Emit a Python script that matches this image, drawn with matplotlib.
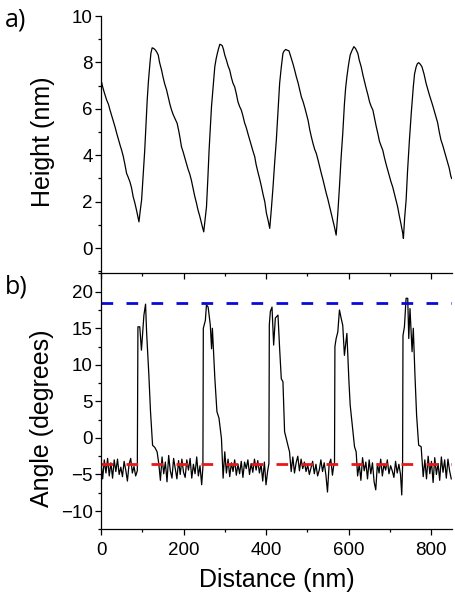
import matplotlib
matplotlib.use("Agg")
import matplotlib.pyplot as plt
from matplotlib.ticker import MultipleLocator

# ---------------- data ----------------
# a) height profile (distance in nm, height in nm)
height_x = [0, 4, 8, 13.7, 18, 21.8, 26, 30, 33.9, 38, 42, 46, 50, 54, 58, 62, 66, 70, 74, 78, 82, 86, 92,
            95, 98.4, 102, 106, 109, 112, 115, 118.6, 121, 124, 128, 132, 135, 138.7, 142, 146.8, 150, 154,
            159, 163, 167, 171, 175, 180, 184.7, 189, 192, 195, 199, 203, 207, 211, 215, 219, 223, 227,
            231.5, 235, 239, 243.6, 246, 249,
            252, 255.7, 259, 262, 265, 267.8, 272, 275.8, 279, 282, 285, 288, 291, 294, 297, 300, 304,
            308, 312, 316, 320, 324, 328, 332, 336, 340, 344, 348, 352, 356, 360, 364, 368, 372.6, 376,
            380, 385, 389, 393, 397, 401, 405, 409,
            413, 417, 421, 425, 429, 433, 437, 441, 444, 448, 452, 455.6, 460, 465, 469, 473.5, 478, 482,
            485.6, 490, 494, 497.7, 502, 506, 509.8, 514, 518, 521.9, 526, 530, 534, 538, 542, 546, 550,
            554, 558, 562, 566, 570,
            574, 578, 582, 586, 590, 593, 596, 600, 604, 608, 613, 617, 622.6, 626, 630.7, 635, 639,
            642.8, 647, 651, 655, 659, 663, 667, 671, 675, 679, 683, 687, 691, 695, 699, 703, 707, 711,
            715, 719, 723, 727, 731.5, 733,
            736, 739.6, 743, 747.6, 752, 757, 760, 763.9, 767, 770, 774, 778, 783, 788, 792, 796, 800,
            804, 808, 812, 816, 820, 824, 828, 832, 836, 840, 844, 848, 850]
height_y = [7.25, 6.95, 6.7, 6.38, 6.2, 5.95, 5.7, 5.45, 5.23, 4.95, 4.7, 4.45, 4.22, 3.95, 3.6, 3.22, 3.05, 2.86, 2.6, 2.21, 1.95, 1.64, 1.13,
            1.6, 2.07, 3.1, 4.22, 5.3, 6.38, 7.2, 7.96, 8.4, 8.63, 8.6, 8.53, 8.45, 8.32, 8.0, 7.67, 7.4, 7.1,
            6.81, 6.5, 6.2, 5.95, 5.75, 5.55, 5.37, 5.0, 4.7, 4.37, 4.15, 3.9, 3.65, 3.4, 3.2, 2.93, 2.6, 2.25,
            1.93, 1.65, 1.4, 1.06, 0.9, 0.7,
            1.2, 1.78, 3.0, 4.22, 5.2, 6.09, 7.0, 7.81, 8.15, 8.39, 8.6, 8.78, 8.76, 8.72, 8.55, 8.32, 8.1,
            7.85, 7.67, 7.35, 7.1, 6.95, 6.65, 6.3, 6.1, 5.95, 5.7, 5.4, 5.2, 4.94, 4.7, 4.45, 4.2, 3.94, 3.6,
            3.3, 2.95, 2.64, 2.3, 2.0, 1.5, 1.2, 0.85,
            1.7, 2.64, 3.7, 4.66, 5.9, 7.1, 7.8, 8.39, 8.5, 8.56, 8.52, 8.5, 8.25, 7.96, 7.7, 7.38, 7.1, 6.8,
            6.52, 6.3, 6.05, 5.8, 5.5, 5.1, 4.8, 4.5, 4.25, 4.08, 3.8, 3.5, 3.22, 2.95, 2.65, 2.36, 2.1,
            1.8, 1.5, 1.2, 0.9, 0.56,
            1.5, 2.64, 3.9, 4.94, 6.2, 6.9, 7.38, 7.9, 8.32, 8.5, 8.68, 8.6, 8.39, 8.1, 7.81, 7.45, 7.15,
            6.88, 6.6, 6.3, 6.1, 5.95, 5.6, 5.25, 4.94, 4.6, 4.4, 4.22, 3.9, 3.62, 3.36, 3.1, 2.85, 2.64, 2.35,
            2.05, 1.78, 1.4, 1.05, 0.63, 0.42,
            1.3, 2.07, 3.3, 4.66, 5.8, 6.95, 7.5, 7.81, 7.95, 7.99, 7.92, 7.81, 7.5, 7.1, 6.85, 6.6, 6.38,
            6.15, 5.9, 5.66, 5.4, 5.0, 4.66, 4.45, 4.2, 3.94, 3.7, 3.45, 3.1, 3.0]

# b) angle profile (distance in nm, angle in degrees)
angle_x = [0, 4, 8, 12, 16, 20, 24, 28, 32, 36, 40, 44, 48, 52, 56, 60, 64, 68, 72, 76, 80, 84, 88,
           89.5, 94, 98, 101, 104, 108, 110.5, 116, 120, 125, 130.5, 136,
           140, 144, 148, 152, 156, 160, 164, 168, 172, 176, 180, 184, 188, 192, 196, 200, 204, 208, 212,
           216, 220, 224, 228, 232, 236, 240, 244, 247,
           248, 253, 255.6, 259.7, 265, 268, 270, 276, 281, 286, 292, 296, 300,
           304, 308, 312, 316, 320, 324, 328, 332, 336, 340, 344, 348, 352, 356, 360, 364, 368, 372, 376,
           380, 384, 388, 392, 396, 400, 404, 407,
           408, 410.5, 414.5, 418.5, 422.6, 429, 433, 437, 441, 445, 449, 453, 457, 461,
           465, 469, 473, 477, 481, 485, 489, 493, 497, 501, 505, 509, 513, 517, 521, 525, 529, 533, 537,
           541, 545, 549, 553, 557, 561, 564, 566,
           567, 570, 574, 578, 582, 586, 590, 596, 601, 604, 609, 614.5, 618.5,
           622, 626, 630, 634, 638, 642, 646, 650, 654, 658, 662, 666, 670, 674, 678, 682, 686, 690, 694,
           698, 702, 706, 710, 714, 718, 722, 726, 729, 731,
           732, 735.5, 739.5, 743.5, 746, 749, 754, 757, 761, 765, 770, 776, 781,
           785, 789, 793, 797, 801, 805, 809, 813, 817, 821, 825, 829, 833, 837, 841, 845, 849]
angle_y = [-3.2, -5.6, -3.0, -4.8, -2.8, -5.2, -3.4, -5.5, -3.0, -4.6, -2.9, -5.0, -4.0, -5.3, -3.2, -4.4, -5.9, -3.6, -2.8, -4.8, -3.9, -5.2, -4.5,
           15.2, 15.2, 12.0, 14.5, 16.8, 18.3, 14.5, 8.6, 3.6, -1.0, -1.3, -1.9,
           -3.5, -5.8, -2.6, -4.9, -3.3, -6.0, -2.4, -4.5, -5.5, -2.8, -4.2, -5.6, -3.1, -5.0, -2.9, -4.7, -5.4, -3.0, -4.4,
           -2.8, -5.5, -3.6, -4.9, -2.6, -5.2, -3.8, -6.4, -4.0,
           15.0, 16.1, 18.2, 17.9, 15.4, 12.2, 15.0, 8.1, 3.6, 2.7, -0.1, -5.5, -1.9,
           -4.8, -2.9, -5.3, -3.4, -4.6, -3.0, -5.1, -3.6, -4.9, -3.2, -5.4, -3.3, -4.2, -3.0, -5.0, -3.5, -4.7, -2.9, -4.4,
           -3.1, -4.8, -3.6, -5.9, -3.3, -6.4, -4.5, -3.5,
           15.5, 17.3, 17.9, 12.7, 16.4, 16.8, 12.2, 8.1, 7.7, 0.85, -0.1, -1.0, -1.9, -4.6,
           -2.6, -4.8, -3.4, -2.5, -4.5, -2.9, -4.2, -3.3, -4.6, -3.7, -5.0, -4.1, -3.2, -4.9, -3.6, -5.2, -4.4, -3.0, -4.6,
           -3.4, -5.0, -7.4, -3.6, -2.9, -5.1, -3.8, -3.5,
           12.5, 13.6, 14.5, 17.5, 16.4, 15.4, 11.3, 14.3, 7.7, 4.5, 1.8, -1.2, -1.9,
           -5.2, -3.6, -5.8, -2.7, -4.5, -3.3, -5.6, -3.0, -4.9, -3.4, -6.0, -7.1, -3.5, -4.8, -2.9, -5.2, -3.6, -4.4, -3.0,
           -4.9, -3.8, -4.5, -5.4, -3.2, -4.8, -3.6, -5.0, -7.8, -4.0,
           14.0, 15.2, 19.1, 19.1, 13.6, 17.7, 11.8, 15.0, 8.6, 3.1, -1.0, -1.2, -5.3,
           -3.0, -5.6, -2.5, -4.9, -3.2, -6.1, -2.7, -5.0, -3.5, -5.8, -2.6, -4.7, -3.0, -5.5, -2.9, -4.5, -5.6]

max_angle = 18.5
base_angle = -3.5

# ---------------- figure ----------------
plt.rcParams['font.family'] = ['Liberation Sans', 'DejaVu Sans']
fig = plt.figure(figsize=(4.56, 6.0), dpi=100)

left, width = 0.2215, 0.769
ax1 = fig.add_axes([left, 0.5455, width, 0.4278])
ax2 = fig.add_axes([left, 0.1178, width, 0.4277], sharex=ax1)
for ax in (ax1, ax2):
    ax.set_facecolor('none')
ax1.set_zorder(3)

ax1.plot(height_x, height_y, color='black', lw=0.9)
ax2.plot(angle_x, angle_y, color='black', lw=0.9)
ax2.axhline(max_angle, color='#0a0ad8', lw=2.0, dashes=(4.2, 4.8))
ax2.axhline(base_angle, color='#e81818', lw=2.0, dashes=(4.2, 4.8))

ax1.set_xlim(0, 850)
ax1.set_ylim(-1.06, 10)
ax2.set_ylim(-12.5, 22.6)

for s in ['top', 'right']:
    ax1.spines[s].set_visible(False)
for s in ['top', 'right']:
    ax2.spines[s].set_visible(False)
for ax in (ax1, ax2):
    for s in ax.spines.values():
        s.set_linewidth(0.9)

ax1.yaxis.set_major_locator(MultipleLocator(2))
ax1.yaxis.set_minor_locator(MultipleLocator(1))
ax2.yaxis.set_major_locator(MultipleLocator(5))
ax2.yaxis.set_minor_locator(MultipleLocator(2.5))
ax2.xaxis.set_major_locator(MultipleLocator(200))
ax2.xaxis.set_minor_locator(MultipleLocator(100))

for ax in (ax1, ax2):
    ax.tick_params(axis='both', which='major', direction='out', length=4, width=0.9,
                   labelsize=13.5, pad=2)
    ax.tick_params(axis='both', which='minor', direction='out', length=2.5, width=0.9)
ax2.tick_params(axis='x', which='major', pad=5)
ax1.tick_params(axis='x', which='both', labelbottom=False)

fig.text(43 / 456, 1 - 142 / 600, 'Height (nm)', rotation=90, ha='center', va='center', fontsize=18)
fig.text(42 / 456, 1 - 418 / 600, 'Angle (degrees)', rotation=90, ha='center', va='center', fontsize=18)
fig.text(277 / 456, 1 - 580 / 600, 'Distance (nm)', ha='center', va='center', fontsize=18)
fig.text(16 / 456, 1 - 20 / 600, 'a)', ha='center', va='center', fontsize=18, family=['Open Sans', 'DejaVu Sans'])
fig.text(16 / 456, 1 - 287 / 600, 'b)', ha='center', va='center', fontsize=18, family=['Open Sans', 'DejaVu Sans'])

fig.savefig('out.png', dpi=100)
